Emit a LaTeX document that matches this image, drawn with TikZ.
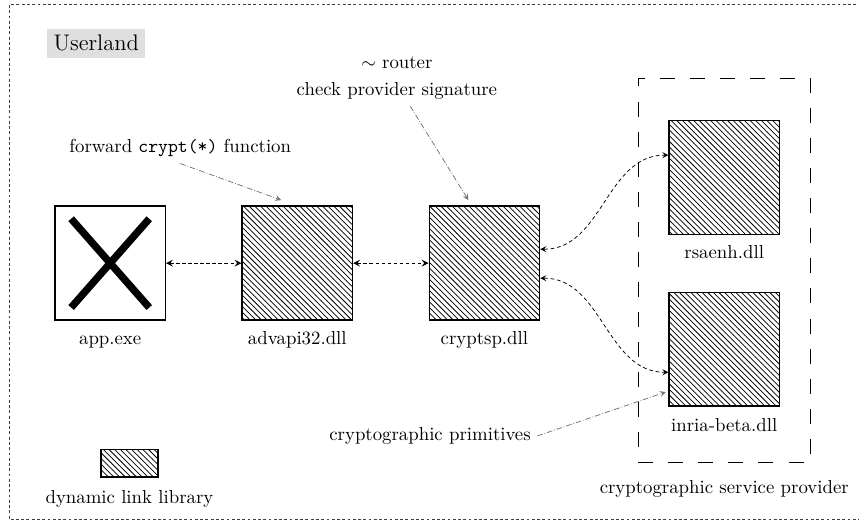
\documentclass[tikz,border=0pt]{standalone}
\usepackage{tikz}
\usepackage{xcolor}
\usetikzlibrary{patterns, positioning, arrows}

\begin{document}
\begin{tikzpicture}[node distance=1.41cm, >=stealth]
    % Styles for the boxes and the connectors
    \tikzstyle{exe box}=[draw, thick, minimum width=2.06cm, minimum height=2.13cm]
    \tikzstyle{dll box}=[exe box, pattern=north west lines]
    \tikzstyle{caption}=[text height=1.6ex, text depth=0.25ex]
    \tikzstyle{call}=[<->, semithick, dash pattern=on 2pt off 1.2pt]
    \tikzstyle{load}=[<->, dash pattern=on 2pt off 1.5pt]
    \tikzstyle{note}=[->, gray!90!black, densely dash dot]

    \useasboundingbox (0,0) rectangle (16.06,-9.74);

    % Userland frame, open on the right
    \draw[darkgray, dash pattern=on 1.5pt off 1.3pt]
        (16.5,-0.09) -- (0.17,-0.09) -- (0.17,-9.71) -- (16.5,-9.71);
    \node[fill=gray!25, font=\large] (userland) at (1.80,-0.81) {Userland};

    % Draw the program and the libraries
    \node[exe box] (app) at (2.06,-4.92) {};
    \node[dll box, right=of app] (advapi) {};
    \node[dll box, right=of advapi] (cryptsp) {};
    \node[dll box] (rsaenh) at (13.54,-3.32) {};
    \node[dll box] (inria) at (13.54,-6.53) {};

    % Cross on the program
    \draw[line width=3.9pt] ([shift={(-0.73,0.83)}]app.center) -- ([shift={(0.73,-0.83)}]app.center);
    \draw[line width=3.9pt] ([shift={(0.73,0.83)}]app.center) -- ([shift={(-0.73,-0.83)}]app.center);

    % Names below the boxes
    \node[caption, below=2pt of app] (app label) {app.exe};
    \node[caption, below=2pt of advapi] (advapi label) {advapi32.dll};
    \node[caption, below=2pt of cryptsp] (cryptsp label) {cryptsp.dll};
    \node[caption, below=2pt of rsaenh] (rsaenh label) {rsaenh.dll};
    \node[caption, below=2.5pt of inria] (inria label) {inria-beta.dll};

    % Service provider group
    \node[draw, dash pattern=on 8pt off 8pt, minimum width=3.22cm, minimum height=7.18cm] (csp) at (13.54,-5.05) {};
    \node[caption, below=6pt of csp] (csp label) {cryptographic service provider};

    % Legend
    \node[draw, thick, pattern=north west lines, minimum width=1.07cm, minimum height=0.52cm] (legend) at (2.42,-8.66) {};
    \node[caption, below=3pt of legend] (legend label) {dynamic link library};

    % Notes
    \node (forward) at (3.37,-2.77) {forward \texttt{crypt(*)} function};
    \node[align=center] (router) at (7.42,-1.46) {$\sim$ router\\[2.6pt]check provider signature};
    \node (primitives) at (8.04,-8.15) {cryptographic primitives};

    % Draw the calls between the libraries
    \draw[call] (app) -- (advapi);
    \draw[call] (advapi) -- (cryptsp);
    \draw[load] ([yshift=0.26cm]cryptsp.east) to[out=0, in=180] ([yshift=0.42cm]rsaenh.west);
    \draw[load] ([yshift=-0.28cm]cryptsp.east) to[out=0, in=180] ([yshift=-0.43cm]inria.west);

    % Draw the note arrows
    \draw[note] (forward.south) -- ([xshift=-0.3cm,yshift=0.1cm]advapi.north);
    \draw[note] ([xshift=0.25cm]router.south) -- ([xshift=-0.3cm,yshift=0.1cm]cryptsp.north);
    \draw[note] (primitives.east) -- ([xshift=-0.05cm,yshift=-0.8cm]inria.west);

\end{tikzpicture}
\end{document}
